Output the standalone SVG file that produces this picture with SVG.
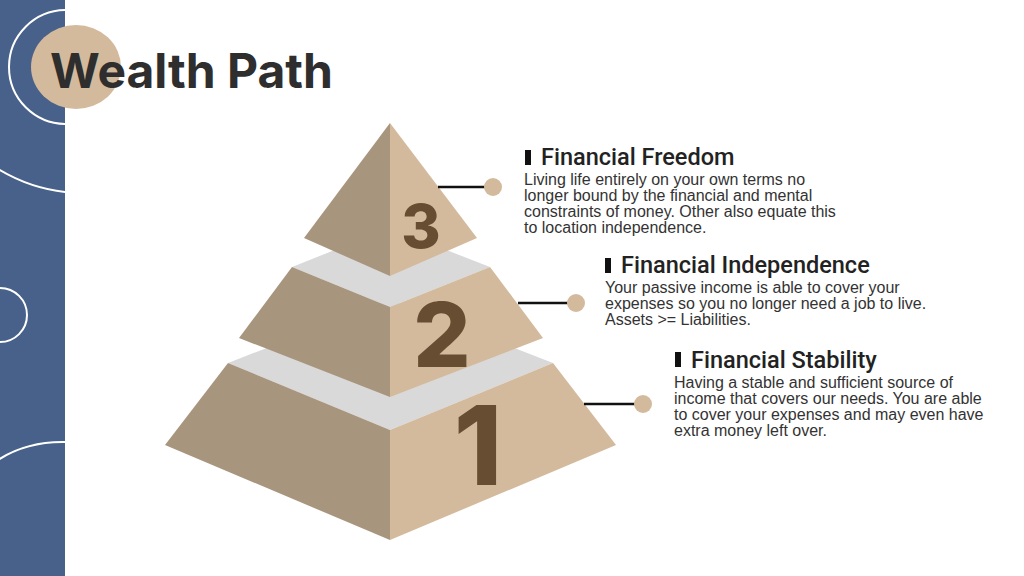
<svg xmlns="http://www.w3.org/2000/svg" width="1024" height="576" viewBox="0 0 1024 576">
<style>
.l{fill:#A8957D}.r{fill:#D4BA9C}.g{fill:#D9D9D9}
.num{font-family:Inter,"Open Sans",sans-serif;font-weight:800;fill:#674E33}
.h{font-family:Roboto,"Liberation Sans",Arial,sans-serif;font-weight:500;font-size:23.5px;fill:#222}
.b{font-family:"Liberation Sans",Arial,sans-serif;font-size:16px;fill:#333}
.arc{fill:none;stroke:#fff;stroke-width:2}
.con{stroke:#111;stroke-width:2.5}
.dot{fill:#D4BA9C}
</style>
<defs><clipPath id="pc"><rect x="0" y="0" width="65" height="576"/></clipPath></defs>
<rect width="1024" height="576" fill="#fff"/>
<rect width="65" height="576" fill="#48618A"/>
<g clip-path="url(#pc)">
<path class="arc" d="M66,10 A57,57 0 0 0 66,124"/>
<path class="arc" d="M-5,167 Q28,188 66,192"/>
<circle class="arc" cx="0" cy="315" r="27"/>
<path class="arc" d="M-5,462 Q25,441 66,442"/>
</g>
<ellipse cx="76" cy="67" rx="45" ry="42" fill="#D4BA9C"/>
<text x="50" y="88" font-family="Inter,'Liberation Sans',sans-serif" font-weight="700" font-size="48" fill="#2E2E2E">Wealth Path</text>
<g id="tier1">
<polygon class="g" points="228,363 390,300 553,363 390,430"/>
<polygon class="l" points="228,363 165,445 390,540 390,430"/>
<polygon class="r" points="390,430 553,363 616,445 390,540"/>
<text class="num" x="478" y="485" font-size="110" text-anchor="middle">1</text>
</g>
<g id="tier2">
<polygon class="g" points="292,267 390,228 490,267 390,307"/>
<polygon class="l" points="292,267 239,338 390,397 390,307"/>
<polygon class="r" points="390,307 490,267 543,338 390,397"/>
<text class="num" x="442" y="367" font-size="90" text-anchor="middle">2</text>
</g>
<g id="tier3">
<polygon class="l" points="390,123 304,238 390,276"/>
<polygon class="r" points="390,123 477,238 390,276"/>
<text class="num" x="421" y="248" font-size="60" text-anchor="middle">3</text>
</g>
<g id="connectors">
<line class="con" x1="438" y1="187" x2="486" y2="187"/>
<circle class="dot" cx="493" cy="187" r="9"/>
<line class="con" x1="518" y1="303" x2="569" y2="303"/>
<circle class="dot" cx="576" cy="303" r="9"/>
<line class="con" x1="584" y1="404" x2="636" y2="404"/>
<circle class="dot" cx="643" cy="404" r="9"/>
</g>
<g id="freedom">
<rect x="525" y="150" width="6" height="15" fill="#111"/>
<text class="h" x="541" y="165">Financial Freedom</text>
<text class="b"><tspan x="524" y="185">Living life entirely on your own terms no</tspan><tspan x="524" y="201">longer bound by the financial and mental</tspan><tspan x="524" y="217">constraints of money. Other also equate this</tspan><tspan x="524" y="233">to location independence.</tspan></text>
</g>
<g id="independence">
<rect x="605" y="258" width="6" height="15" fill="#111"/>
<text class="h" x="621" y="273">Financial Independence</text>
<text class="b"><tspan x="605" y="293">Your passive income is able to cover your</tspan><tspan x="605" y="309">expenses so you no longer need a job to live.</tspan><tspan x="605" y="325">Assets &gt;= Liabilities.</tspan></text>
</g>
<g id="stability">
<rect x="675" y="352" width="6" height="15" fill="#111"/>
<text class="h" x="691" y="368">Financial Stability</text>
<text class="b"><tspan x="674" y="388">Having a stable and sufficient source of</tspan><tspan x="674" y="404">income that covers our needs. You are able</tspan><tspan x="674" y="420">to cover your expenses and may even have</tspan><tspan x="674" y="436">extra money left over.</tspan></text>
</g>
</svg>
